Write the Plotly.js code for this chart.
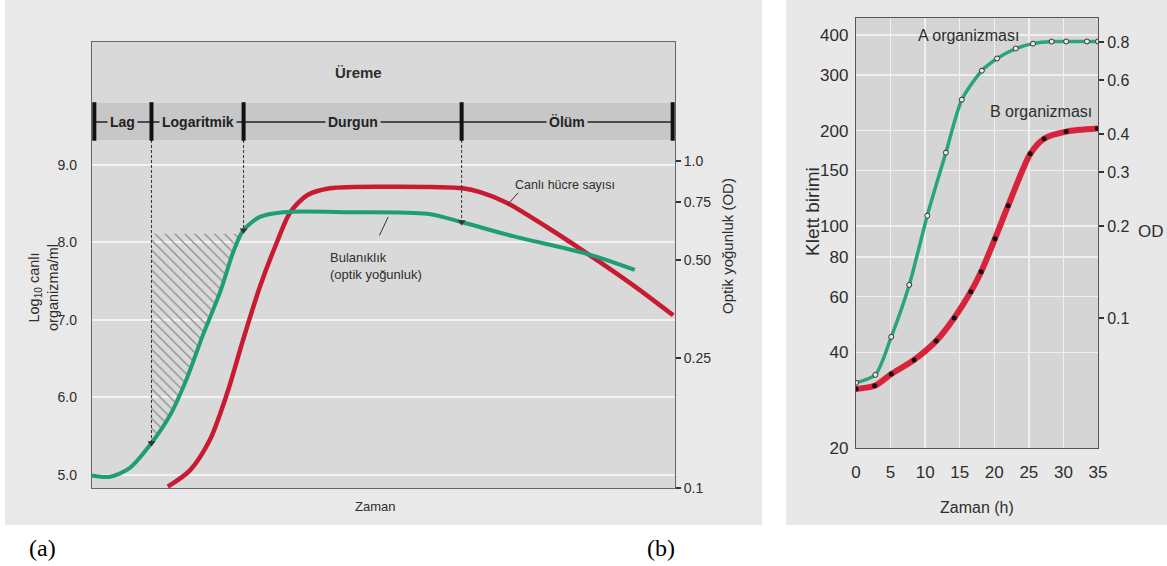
<!DOCTYPE html>
<html><head><meta charset="utf-8">
<script src="https://cdn.plot.ly/plotly-3.0.1.min.js"></script>
<style>html,body{margin:0;padding:0;background:#fff;} #chart{width:1167px;height:566px;}</style>
</head><body><div id="chart"></div>
<script>
// ---------- (a) Bakteri üreme eğrisi ----------
const phaseLabels = ['Lag', 'Logaritmik', 'Durgun', 'Ölüm'];
const phaseBounds = [0.4, 10.2, 26.0, 63.4, 99.6];
const timeTurbidity = [0, 3.1, 6.5, 10.2, 13.4, 16.3, 19.0, 22.0, 24.2, 25.9, 28.8, 32.8, 44.3, 57.5, 63.5, 72.2, 84.9, 93.1];
const turbidityOD   = [0.109, 0.108, 0.115, 0.137, 0.167, 0.217, 0.293, 0.399, 0.526, 0.613, 0.676, 0.699, 0.699, 0.691, 0.651, 0.590, 0.521, 0.465];
const timeViable = [13.0, 16.8, 20.2, 23.2, 25.9, 28.8, 31.7, 34.0, 36.9, 40.8, 51.1, 63.6, 66.6, 71.2, 78.0, 84.9, 92.8, 99.7];
const logViable  = [4.85, 5.06, 5.45, 6.06, 6.74, 7.43, 8.00, 8.39, 8.61, 8.70, 8.72, 8.70, 8.65, 8.51, 8.20, 7.86, 7.45, 7.06];
const logTickVals = [5, 6, 7, 8, 9];
const odTickVals = [0.1, 0.25, 0.5, 0.75, 1.0];
const odTickText = ['0.1', '0.25', '0.50', '0.75', '1.0'];
const hatchTopOD = 0.60;

// ---------- (b) Klett birimi ----------
const timeA  = [0, 2.8, 5.1, 7.7, 10.3, 13.0, 15.3, 18.2, 20.4, 23.1, 25.6, 28.3, 30.4, 33.4, 35];
const klettA = [32.1, 34.0, 44.8, 65.3, 107.9, 170.5, 250.4, 309, 337.6, 362.9, 376, 381.7, 382, 382, 382];
const timeB  = [0, 2.7, 5.1, 8.4, 11.6, 14.2, 16.6, 18.1, 20.1, 22.0, 25.2, 27.2, 30.4, 34.9];
const klettB = [30.7, 31.4, 34.2, 37.9, 43.5, 51.4, 62.1, 71.8, 91.3, 116, 169, 188.7, 198.6, 203];
const klettTicks = [20, 40, 60, 80, 100, 150, 200, 300, 400];
const odTicksB = [0.1, 0.2, 0.3, 0.4, 0.6, 0.8];
const hourTicks = [0, 5, 10, 15, 20, 25, 30, 35];

// ---------- layout helpers ----------
const W = 1167, H = 566;
const px = x => x / W, py = y => 1 - y / H;
const Y_LOG_RANGE = [4.832, 10.587];
const Y_OD_RANGE = [-1.001, 0.366];
const BAND = [9.323, 9.80];
const BAND_MID = 9.555;
function leftToOD(v) {
  const f = (v - Y_LOG_RANGE[0]) / (Y_LOG_RANGE[1] - Y_LOG_RANGE[0]);
  return Math.pow(10, Y_OD_RANGE[0] + f * (Y_OD_RANGE[1] - Y_OD_RANGE[0]));
}
function odAt(t) {
  for (let i = 0; i < timeTurbidity.length - 1; i++) {
    const t0 = timeTurbidity[i], t1 = timeTurbidity[i + 1];
    if (t >= t0 && t <= t1) {
      const f = (t - t0) / (t1 - t0);
      const l0 = Math.log10(turbidityOD[i]), l1 = Math.log10(turbidityOD[i + 1]);
      return Math.pow(10, l0 + f * (l1 - l0));
    }
  }
  return turbidityOD[turbidityOD.length - 1];
}

// hatched region between logarithmic-phase start and the turbidity curve
const hb = phaseBounds[1];
const hx = [hb, hb], hy = [hatchTopOD, odAt(hb)];
for (let i = 0; i < timeTurbidity.length - 1; i++) {
  const t0 = timeTurbidity[i], t1 = timeTurbidity[i + 1];
  const v0 = turbidityOD[i], v1 = turbidityOD[i + 1];
  if (t0 > hb && v0 < hatchTopOD) { hx.push(t0); hy.push(v0); }
  if (t0 >= hb && v0 < hatchTopOD && v1 >= hatchTopOD) {
    const l0 = Math.log10(v0), l1 = Math.log10(v1), lt = Math.log10(hatchTopOD);
    hx.push(t0 + (lt - l0) / (l1 - l0) * (t1 - t0)); hy.push(hatchTopOD);
    break;
  }
}
hx.push(hb); hy.push(hatchTopOD);

const GREEN = '#1f9e74', RED = '#c81b32';
const traces = [];
traces.push({x: hx, y: hy, xaxis: 'x', yaxis: 'y2', mode: 'lines', fill: 'toself',
  fillcolor: 'rgba(0,0,0,0)', line: {width: 0},
  fillpattern: {shape: '\\', fgcolor: '#8c8c8c', bgcolor: 'rgba(0,0,0,0)', size: 7, solidity: 0.18},
  hoverinfo: 'skip'});
traces.push({x: timeTurbidity, y: turbidityOD, xaxis: 'x', yaxis: 'y2', mode: 'lines',
  line: {color: GREEN, width: 4, shape: 'spline', smoothing: 0.8}, name: 'Bulanıklık'});
traces.push({x: timeViable, y: logViable, xaxis: 'x', yaxis: 'y', mode: 'lines',
  line: {color: RED, width: 4.5, shape: 'spline', smoothing: 0.8}, name: 'Canlı hücre sayısı'});
[phaseBounds[1], phaseBounds[2], phaseBounds[3]].forEach(b => {
  traces.push({x: [b, b], y: [leftToOD(BAND[0]), odAt(b)], xaxis: 'x', yaxis: 'y2',
    mode: 'lines', line: {color: '#333', width: 1, dash: '3px,2px'}, hoverinfo: 'skip'});
  traces.push({x: [b], y: [odAt(b)], xaxis: 'x', yaxis: 'y2', mode: 'markers',
    marker: {symbol: 'triangle-down', size: 7, color: '#333'}, hoverinfo: 'skip'});
});

// (b)
traces.push({x: timeB, y: klettB, xaxis: 'x3', yaxis: 'y3', mode: 'lines+markers',
  line: {color: '#d9233a', width: 6, shape: 'spline', smoothing: 0.7},
  marker: {color: '#111', size: 5}, name: 'B organizması'});
traces.push({x: timeA, y: klettA, xaxis: 'x3', yaxis: 'y3', mode: 'lines+markers',
  line: {color: '#2aa676', width: 3.5, shape: 'spline', smoothing: 0.7},
  marker: {color: '#e6e6e6', size: 5, line: {color: '#333', width: 1}}, name: 'A organizması'});
traces.push({x: [], y: [], xaxis: 'x3', yaxis: 'y4', mode: 'lines', hoverinfo: 'skip'});

const NARROW = '"Liberation Sans Narrow", "Liberation Sans", Arial, sans-serif';
const SANS = '"Liberation Sans", Arial, sans-serif';
const SERIF = '"Liberation Serif", "Times New Roman", serif';
const TXT = '#2e2e2e';
const BANDCOL = '#c7c7c7';

const shapes = [
  {type: 'rect', xref: 'paper', yref: 'paper', x0: px(5), x1: px(762), y0: py(525), y1: 1,
   fillcolor: '#e9e9e9', line: {width: 0}, layer: 'below'},
  {type: 'rect', xref: 'paper', yref: 'paper', x0: px(786), x1: 1, y0: py(525), y1: 1,
   fillcolor: '#e8e8e8', line: {width: 0}, layer: 'below'},
  {type: 'rect', xref: 'x domain', yref: 'y domain', x0: 0, x1: 1, y0: 0, y1: 1,
   fillcolor: '#d9d9d9', line: {width: 0}, layer: 'below'},
  {type: 'rect', xref: 'x3 domain', yref: 'y3 domain', x0: 0, x1: 1, y0: 0, y1: 1,
   fillcolor: '#d5d5d5', line: {width: 0}, layer: 'below'},
  {type: 'rect', xref: 'x domain', yref: 'y', x0: 0, x1: 1, y0: BAND[0], y1: BAND[1],
   fillcolor: BANDCOL, line: {width: 0}, layer: 'below'},
  {type: 'line', xref: 'x', yref: 'y', x0: phaseBounds[0], x1: phaseBounds[4], y0: BAND_MID, y1: BAND_MID,
   line: {color: '#222', width: 1.5}},
  // leader lines for the curve labels
  {type: 'line', xref: 'x', yref: 'y', x0: 71.2, y0: 8.484, x1: 73.1, y1: 8.64, line: {color: '#333', width: 1}},
  {type: 'line', xref: 'x', yref: 'y', x0: 50.8, y0: 8.33, x1: 49.3, y1: 8.09, line: {color: '#333', width: 1}}
];
phaseBounds.forEach(b => shapes.push({type: 'line', xref: 'x', yref: 'y', x0: b, x1: b,
  y0: BAND[0] - 0.01, y1: BAND[1] + 0.01, line: {color: '#111', width: 4}}));

const annotations = [];
phaseLabels.forEach((lab, i) => annotations.push({
  x: (phaseBounds[i] + phaseBounds[i + 1]) / 2, y: BAND_MID, xref: 'x', yref: 'y',
  xanchor: 'center', yanchor: 'middle',
  text: '<b>' + lab + '</b>', showarrow: false, bgcolor: BANDCOL, borderpad: 2,
  font: {family: NARROW, size: 14, color: '#222'}}));
const paperText = (t, x, y, size, family, extra) => Object.assign({text: t, x: px(x), y: py(y),
  xref: 'paper', yref: 'paper', xanchor: 'center', yanchor: 'middle', showarrow: false,
  font: {family: family, size: size, color: TXT}}, extra || {});
annotations.push(paperText('<b>Üreme</b>', 358, 72, 15, NARROW));
annotations.push(paperText('Canlı hücre sayısı', 565, 185, 12.5, NARROW));
annotations.push(paperText('Bulanıklık<br>(optik yoğunluk)', 328, 266, 13, NARROW, {xanchor: 'left', align: 'left'}));
annotations.push(paperText('Log<sub>10</sub> canlı<br>organizma/ml', 43, 288, 14.5, NARROW, {textangle: -90}));
annotations.push(paperText('Optik yoğunluk (OD)', 727, 246, 15, NARROW, {textangle: -90}));
annotations.push(paperText('Zaman', 375, 506, 13, NARROW));
annotations.push(paperText('Klett birimi', 812, 212, 19, SANS, {textangle: -90}));
annotations.push(paperText('OD', 1151, 231, 17, SANS));
annotations.push(paperText('Zaman (h)', 977, 507, 16, SANS));
annotations.push(paperText('A organizması', 968, 35, 16, SANS));
annotations.push(paperText('B organizması', 1041, 112, 16, SANS));
annotations.push(Object.assign(paperText('(a)', 42, 548, 24, SERIF), {font: {family: SERIF, size: 24, color: '#000'}}));
annotations.push(Object.assign(paperText('(b)', 661, 548, 24, SERIF), {font: {family: SERIF, size: 24, color: '#000'}}));

const layout = {
  width: W, height: H, margin: {l: 0, r: 0, t: 0, b: 0},
  paper_bgcolor: '#ffffff', plot_bgcolor: 'rgba(0,0,0,0)', showlegend: false,
  xaxis: {domain: [px(92), px(675)], range: [0, 100], anchor: 'y', showgrid: false, zeroline: false,
    showticklabels: false, ticks: '', showline: true, mirror: true, linecolor: '#666', linewidth: 1.2, fixedrange: true},
  yaxis: {domain: [py(488), py(42)], range: Y_LOG_RANGE, anchor: 'x', tickvals: logTickVals, tickformat: '.1f',
    showgrid: true, gridcolor: '#f3f3f3', gridwidth: 2, zeroline: false, showline: true, mirror: true,
    linecolor: '#666', linewidth: 1.2, ticks: 'outside', ticklen: 11, tickcolor: 'rgba(0,0,0,0)',
    tickfont: {family: NARROW, size: 14, color: TXT}, fixedrange: true},
  yaxis2: {overlaying: 'y', side: 'right', anchor: 'x', type: 'log', range: Y_OD_RANGE,
    tickvals: odTickVals, ticktext: odTickText, ticks: 'outside', ticklen: 5, tickwidth: 2, tickcolor: '#333',
    showgrid: false, zeroline: false, showline: false, tickfont: {family: NARROW, size: 14, color: TXT}, fixedrange: true},
  xaxis3: {domain: [px(856), px(1098)], range: [0, 35], anchor: 'y3', tickvals: hourTicks,
    showgrid: true, gridcolor: '#efefef', gridwidth: 1.5, zeroline: false, showline: true, mirror: true,
    linecolor: '#555', linewidth: 1.2, ticks: 'outside', ticklen: 8, tickcolor: 'rgba(0,0,0,0)',
    tickfont: {family: SANS, size: 17, color: TXT}, fixedrange: true},
  yaxis3: {domain: [py(448), py(18)], type: 'log', range: [1.301, 2.656], anchor: 'x3', tickvals: klettTicks,
    showgrid: true, gridcolor: '#efefef', gridwidth: 1.5, zeroline: false, showline: true, mirror: true,
    linecolor: '#555', linewidth: 1.2, ticks: 'outside', ticklen: 3, tickcolor: 'rgba(0,0,0,0)',
    tickfont: {family: SANS, size: 17, color: TXT}, fixedrange: true},
  yaxis4: {overlaying: 'y3', side: 'right', anchor: 'x3', type: 'log', range: [-1.425, -0.0185],
    tickvals: odTicksB, ticks: 'outside', ticklen: 5, tickwidth: 2, tickcolor: '#333',
    showgrid: false, zeroline: false, showline: false, tickfont: {family: SANS, size: 16, color: TXT}, fixedrange: true},
  shapes: shapes, annotations: annotations
};
Plotly.newPlot('chart', traces, layout, {staticPlot: true, displayModeBar: false});
</script></body></html>
